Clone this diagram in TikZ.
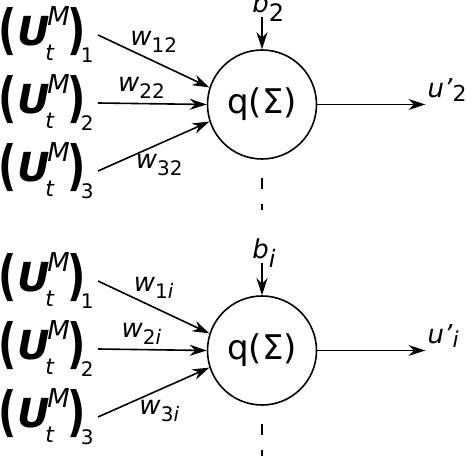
\documentclass[tikz,border=0pt]{standalone}
\usepackage{graphicx}
\usepackage{fontspec}
\setmainfont{DejaVu Sans}
\usetikzlibrary{arrows.meta}

% italic symbol with a lowered index: size, drop, index
\newcommand{\lsub}[4]{\textit{#1}\raisebox{-#3}{\fontsize{#2}{#2}\selectfont #4}}
% tall bold bracket
\newcommand{\tallp}[1]{\raisebox{-1.5pt}{\scalebox{1}[1.35]{\textbf{#1}}}}
% bracketed input (U_t^M)_k
\newcommand{\inlbl}[1]{%
  \hspace{1pt}\tallp{(}%
  \textbf{\textit{U}}\hspace{-2pt}%
  \rlap{\hspace{1pt}\raisebox{10pt}{\fontsize{13}{13}\selectfont\textit{M}}}%
  \raisebox{-7.5pt}{\fontsize{11}{11}\selectfont\textit{t}}\hspace{6.4pt}%
  \tallp{)}\hspace{-2.5pt}%
  \raisebox{-8.5pt}{\fontsize{10}{10}\selectfont #1}}

\begin{document}
\begin{tikzpicture}[x=0.5pt,y=-0.5pt,>={Stealth[length=8.5pt,width=5.5pt]},
  neuron/.style={draw,circle,line width=0.8pt,minimum size=54.5pt,inner sep=0pt,
    font=\fontsize{17}{17}\selectfont},
  inp/.style={anchor=east,inner sep=2pt,font=\fontsize{20}{20}\selectfont},
  wt/.style={inner sep=0pt,font=\fontsize{13}{13}\selectfont},
  sml/.style={inner sep=0pt,anchor=base west,font=\fontsize{13}{13}\selectfont},
  sig/.style={->,line width=0.8pt},
  vdots/.style={line width=0.8pt}]
  \useasboundingbox (0,0) rectangle (474,474);

  \foreach \k/\y/\s in {1/0/2, 2/246/\textit{i}} {
    % neuron k
    \node[neuron] (n\k) at (262,104.5+\y) {q(Σ)};
    \node[inp] (x\k1) at (98,35+\y) {\inlbl{1}};
    \node[inp] (x\k2) at (98,103+\y) {\inlbl{2}};
    \node[inp] (x\k3) at (98,171+\y) {\inlbl{3}};

    \draw[sig] (x\k1.east) -- (n\k.162)
      node[wt,pos=.5,above=4pt] {\lsub{w}{10}{3.5pt}{1\s}};
    \draw[sig] (x\k2.east) -- (n\k.west)
      node[wt,pos=.4,above=2pt] {\lsub{w}{10}{3.5pt}{2\s}};
    \draw[sig] (x\k3.east) -- (n\k.198)
      node[wt,pos=.55,below=5pt] {\lsub{w}{10}{3.5pt}{3\s}};

    % bias and output
    \node[sml] (b\k) at ([xshift=-5pt,yshift=18.5pt]n\k.north) {\lsub{b}{12}{4.5pt}{\s}};
    \draw[sig] ([yshift=16pt]n\k.north) -- (n\k.north);
    \draw[sig] (n\k.east) -- ++(108,0) coordinate (o\k);
    \node[sml] (y\k) at ([xshift=1pt,yshift=3.5pt]o\k)
      {\lsub{u'}{11}{2pt}{\s}};

    \draw[vdots] (n\k.south) ++(0,18) -- ++(0,11) ++(0,15) -- ++(0,6);
  }
\end{tikzpicture}
\end{document}
